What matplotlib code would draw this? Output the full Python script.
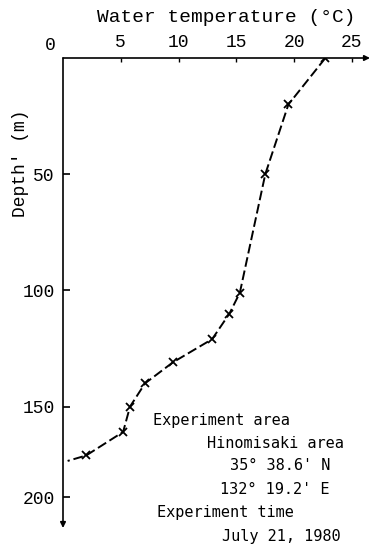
import numpy as np
import matplotlib
matplotlib.use('Agg')
import matplotlib.pyplot as plt

# temperature profile (last point = end of curve, no marker)
temp = [22.7, 19.5, 17.5, 15.3, 14.4, 12.9, 9.5, 7.1, 5.8, 5.2, 2.0, 0.4]
depth = [0, 20, 50, 101, 110, 121, 131, 140, 150, 164, 177, 180]

xticks = [5, 10, 15, 20, 25]
yticks = [50, 100, 150, 200]

notes = [
    ('Experiment area', 153, 420),
    ('Hinomisaki area', 207, 443),
    ("35° 38.6' N", 230, 466),
    ("132° 19.2' E", 220, 489),
    ('Experiment time', 157, 513),
    ('July 21, 1980', 222, 537),
]

W, H = 376, 545
mono = 'Liberation Mono'


# the original drawing compresses the axis below 150 m
def fwd(d):
    d = np.asarray(d, dtype=float)
    return np.where(d <= 150, d, 150 + (d - 150) * 0.78)


def inv(v):
    v = np.asarray(v, dtype=float)
    return np.where(v <= 150, v, 150 + (v - 150) / 0.78)


fig = plt.figure(figsize=(W / 100, H / 100), dpi=100)
ax = fig.add_axes([63 / W, 1 - 528 / H, (370 - 63) / W, (528 - 58) / H])
ax.set_yscale('function', functions=(fwd, inv))
ax.set_xlim(0, 26.56)
ax.set_ylim(217, 0)

ax.plot(temp, depth, color='k', lw=1.4, ls=(0, (5, 2)), marker='x',
        ms=6, mew=1.3, markevery=list(range(len(temp) - 1)))

for s in ax.spines.values():
    s.set_visible(False)
ax.annotate('', xy=(1, 1), xytext=(0, 1), xycoords='axes fraction',
            arrowprops=dict(arrowstyle='-|>', lw=1.2, color='k',
                            shrinkA=0, shrinkB=0, mutation_scale=8))
ax.annotate('', xy=(0, 0), xytext=(0, 1), xycoords='axes fraction',
            arrowprops=dict(arrowstyle='-|>', lw=1.2, color='k',
                            shrinkA=0, shrinkB=0, mutation_scale=8))

ax.xaxis.tick_top()
ax.set_xticks(xticks)
ax.set_xticklabels([str(t) for t in xticks], fontfamily=mono, fontsize=13)
ax.set_yticks(yticks)
ax.set_yticklabels([str(t) for t in yticks], fontfamily=mono, fontsize=13)
ax.tick_params(axis='x', direction='in', length=3, width=1, pad=5)
ax.tick_params(axis='y', direction='in', length=5, width=1.2, pad=6)
ax.minorticks_off()

fig.text(50 / W, 1 - 45 / H, '0', ha='center', va='center',
         fontfamily=mono, fontsize=13)
fig.text(226 / W, 1 - 17 / H, 'Water temperature (°C)', ha='center',
         va='center', fontfamily=mono, fontsize=14)
fig.text(21 / W, 1 - 163 / H, "Depth' (m)", ha='center', va='center',
         rotation=90, fontfamily=mono, fontsize=13)

for txt, x, y in notes:
    fig.text(x / W, 1 - y / H, txt, ha='left', va='center',
             fontfamily='DejaVu Sans Mono', fontsize=11)

fig.savefig('out.png', dpi=100)
